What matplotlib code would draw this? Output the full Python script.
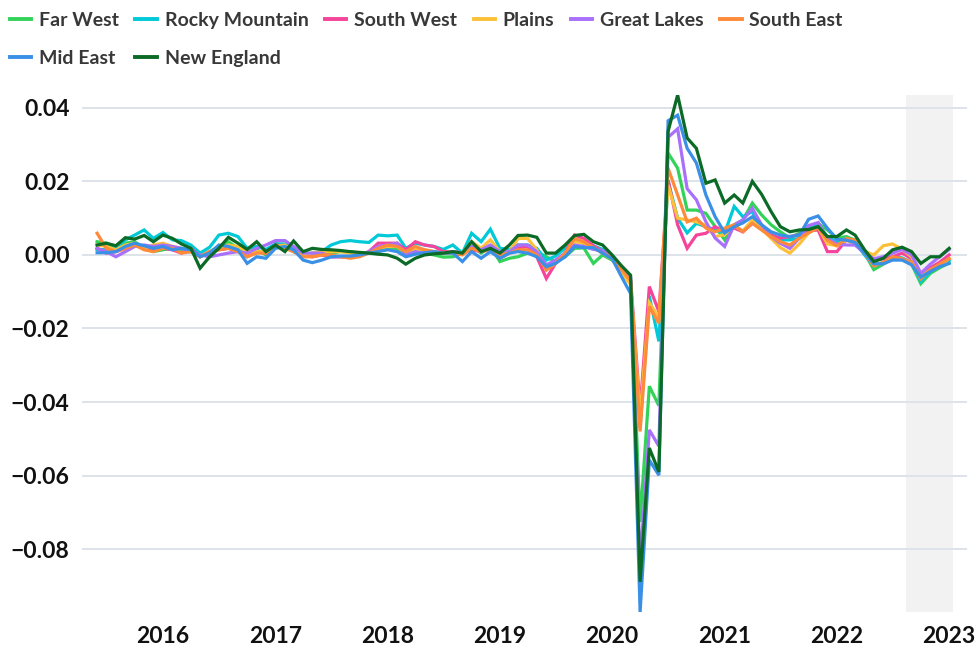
import numpy as np
import pandas as pd
import matplotlib
matplotlib.use("Agg")
import matplotlib.pyplot as plt
import matplotlib.dates as mdates
from matplotlib.ticker import FuncFormatter

# monthly change by BEA region, Jun 2015 - Jan 2023
months = pd.date_range("2015-06-01", periods=92, freq="MS")

far_west = [
    0.0036, 0.0032, 0.0014, 0.0032, 0.0036, 0.0018, 0.0009, 0.0014, 0.0018, 0.0009,
    0.0009, -0.0005, 0.0009, 0.0023, 0.0036, 0.0018, 0.0009, 0.0014, 0.0, 0.0032,
    0.0023, 0.0014, -0.0005, 0.0, 0.0, 0.0005, 0.0009, 0.0009, 0.0005, 0.0005,
    0.0014, 0.0018, 0.0018, 0.0, 0.0009, 0.0005, 0.0, -0.0006, -0.0005, 0.0005,
    0.0023, 0.0005, 0.0023, -0.0018, -0.0009, -0.0005, 0.0005, 0.0009, -0.0005, -0.0018,
    -0.0005, 0.0018, 0.0019, -0.0023, 0.0, -0.0014, -0.0045, -0.0073, -0.0726, -0.0357,
    -0.041, 0.0277, 0.0236, 0.0122, 0.0122, 0.0113, 0.0077, 0.0041, 0.0082, 0.0095,
    0.0141, 0.0109, 0.0082, 0.0063, 0.0046, 0.006, 0.0077, 0.0086, 0.0068, 0.0046,
    0.005, 0.004, 0.0005, -0.004, -0.0025, -0.001, -0.0012, -0.0025, -0.0078, -0.005,
    -0.0035, -0.0022,
]
rocky_mountain = [
    0.0015, 0.0014, 0.0021, 0.0041, 0.0054, 0.0068, 0.0045, 0.0061, 0.0041, 0.0039,
    0.0027, 0.0005, 0.0021, 0.0054, 0.0059, 0.005, 0.0018, 0.0023, 0.0015, 0.003,
    0.003, 0.0015, 0.0, 0.0005, 0.0009, 0.0027, 0.0036, 0.0039, 0.0036, 0.0034,
    0.0054, 0.0052, 0.0054, 0.0018, 0.0032, 0.0027, 0.0023, 0.0015, 0.0027, 0.0005,
    0.0059, 0.0036, 0.007, 0.0018, 0.0015, 0.0027, 0.0027, 0.0018, -0.0014, -0.0003,
    0.0018, 0.0045, 0.003, 0.0025, 0.0015, -0.0005, -0.004, -0.0075, -0.047, -0.0112,
    -0.0235, 0.020, 0.010, 0.006, 0.0086, 0.0077, 0.0068, 0.006, 0.0132, 0.0104,
    0.0118, 0.0073, 0.0054, 0.0041, 0.0041, 0.0045, 0.007, 0.0082, 0.005, 0.0035,
    0.0045, 0.0035, 0.0, -0.003, -0.002, -0.0005, -0.0008, -0.002, -0.0072, -0.0045,
    -0.003, -0.0015,
]
south_west = [
    0.0018, 0.0005, 0.0009, 0.0018, 0.0027, 0.0018, 0.0014, 0.0018, 0.0014, 0.0005,
    0.0018, -0.0005, 0.0009, 0.0014, 0.0018, 0.0009, -0.0005, 0.0009, 0.0005, 0.0027,
    0.0023, 0.0009, 0.0, -0.0005, 0.0, -0.0005, -0.0005, -0.0006, -0.0003, 0.0009,
    0.0032, 0.0032, 0.0032, 0.0014, 0.0036, 0.0027, 0.0023, 0.0009, 0.0009, 0.0005,
    0.0014, 0.0009, 0.0018, -0.0009, 0.0005, 0.0018, 0.0023, -0.0005, -0.0064, -0.0023,
    0.0005, 0.0054, 0.0045, 0.0025, 0.001, -0.001, -0.0045, -0.0065, -0.042, -0.0086,
    -0.0154, 0.0204, 0.0082, 0.0018, 0.0054, 0.0059, 0.0077, 0.0063, 0.0073, 0.0063,
    0.0086, 0.0073, 0.0054, 0.0046, 0.005, 0.0055, 0.0065, 0.0068, 0.0009, 0.0009,
    0.0041, 0.004, 0.001, -0.0015, -0.001, -0.0005, 0.0005, -0.001, -0.0055, -0.0035,
    -0.002, 0.0,
]
plains = [
    0.0027, 0.0023, 0.0014, 0.0027, 0.0032, 0.0018, 0.0027, 0.0032, 0.0023, 0.0018,
    0.0009, -0.0005, 0.0009, 0.0018, 0.0027, 0.0023, 0.0009, 0.0009, 0.0009, 0.0023,
    0.0027, 0.0009, 0.0, 0.0005, 0.0009, 0.0009, 0.0009, 0.0005, 0.0003, 0.0005,
    0.0018, 0.0023, 0.0023, 0.0005, 0.0014, 0.0014, 0.0009, 0.0005, 0.0009, 0.0005,
    0.0036, 0.0018, 0.0041, 0.0009, 0.0009, 0.0045, 0.0045, 0.0014, -0.004, -0.0023,
    0.0, 0.0036, 0.0032, 0.002, 0.0005, -0.001, -0.005, -0.008, -0.044, -0.013,
    -0.017, 0.019, 0.010, 0.0095, 0.009, 0.008, 0.005, 0.0055, 0.008, 0.0065,
    0.0095, 0.007, 0.0045, 0.002, 0.0005, 0.003, 0.006, 0.0075, 0.003, 0.0025,
    0.004, 0.003, 0.001, 0.0, 0.0025, 0.003, 0.0015, -0.0005, -0.006, -0.004,
    -0.003, -0.001,
]
great_lakes = [
    0.0018, 0.0009, -0.0005, 0.0009, 0.0023, 0.0027, 0.0023, 0.0027, 0.0023, 0.0018,
    0.0009, 0.0, -0.0005, 0.0, 0.0005, 0.0009, 0.0005, 0.0018, 0.0027, 0.0039,
    0.0039, 0.0023, 0.0005, 0.0005, 0.0005, -0.0005, -0.0005, -0.0005, 0.0, 0.0009,
    0.0023, 0.0027, 0.0032, 0.0, 0.0009, 0.0005, 0.0009, 0.0005, 0.0009, 0.0005,
    0.0023, 0.0014, 0.0027, 0.0009, 0.0009, 0.0027, 0.0027, 0.0009, -0.0027, -0.0014,
    0.0005, 0.0027, 0.0023, 0.0015, 0.0012, -0.0005, -0.004, -0.006, -0.084, -0.0476,
    -0.052, 0.032, 0.0343, 0.018, 0.015, 0.009, 0.0046, 0.0023, 0.0082, 0.0095,
    0.0127, 0.0082, 0.005, 0.0032, 0.0018, 0.0046, 0.008, 0.0088, 0.0045, 0.003,
    0.0027, 0.0027, 0.0005, -0.001, -0.0005, 0.0005, 0.0015, 0.0, -0.005, -0.0025,
    -0.0005, 0.0015,
]
south_east = [
    0.0059, 0.0018, 0.0009, 0.0018, 0.0027, 0.0014, 0.0009, 0.0018, 0.0018, 0.0005,
    0.0009, -0.0005, 0.0009, 0.0014, 0.0018, 0.0009, -0.0005, 0.0005, 0.0005, 0.0023,
    0.0018, 0.0009, -0.0005, -0.0005, 0.0, 0.0, -0.0005, -0.0009, -0.0005, 0.0005,
    0.0018, 0.0027, 0.0023, 0.0009, 0.0023, 0.0014, 0.0009, 0.0005, 0.0005, 0.0,
    0.0018, 0.0009, 0.0014, 0.0, 0.0005, 0.0014, 0.0014, 0.0, -0.0041, -0.0023,
    0.0005, 0.0045, 0.0036, 0.002, 0.0005, -0.0005, -0.004, -0.007, -0.048, -0.014,
    -0.0186, 0.0236, 0.0163, 0.009, 0.010, 0.0073, 0.0063, 0.0073, 0.0082, 0.0063,
    0.0086, 0.0068, 0.005, 0.0036, 0.0027, 0.0046, 0.006, 0.0075, 0.004, 0.0025,
    0.0045, 0.004, 0.0005, -0.003, -0.002, -0.0005, -0.001, -0.002, -0.0065, -0.004,
    -0.0025, -0.001,
]
mid_east = [
    0.0006, 0.0006, 0.0009, 0.0023, 0.0032, 0.0025, 0.0018, 0.0023, 0.0014, 0.0018,
    0.0014, -0.0005, 0.0005, 0.0027, 0.0023, 0.0014, -0.0023, -0.0005, -0.0009, 0.0018,
    0.0023, 0.0014, -0.0014, -0.0021, -0.0014, -0.0005, -0.0003, -0.0003, 0.0, 0.0005,
    0.0009, 0.0014, 0.0009, -0.0005, 0.0002, 0.0006, 0.0009, 0.0005, 0.0005, -0.0018,
    0.0009, -0.0009, 0.0009, -0.0009, 0.0005, 0.0009, 0.0005, -0.0005, -0.0032, -0.0023,
    -0.0005, 0.0023, 0.002, 0.002, 0.0005, -0.001, -0.006, -0.0105, -0.0971, -0.0558,
    -0.0599, 0.0365, 0.038, 0.029, 0.025, 0.0163, 0.0104, 0.006, 0.0077, 0.0087,
    0.0104, 0.0082, 0.0063, 0.0054, 0.005, 0.0054, 0.0097, 0.0106, 0.0073, 0.0043,
    0.004, 0.0034, 0.0005, -0.0024, -0.0024, -0.0014, -0.0014, -0.0027, -0.006, -0.0045,
    -0.0032, -0.0023,
]
new_england = [
    0.0027, 0.0032, 0.0025, 0.0047, 0.0043, 0.0053, 0.0036, 0.0054, 0.0045, 0.0030,
    0.0018, -0.0036, -0.0005, 0.0018, 0.0048, 0.0032, 0.0015, 0.0036, 0.0009, 0.0027,
    0.0009, 0.0038, 0.0009, 0.0018, 0.0015, 0.0014, 0.0012, 0.0009, 0.0007, 0.0005,
    0.0002, 0.0, -0.0009, -0.0025, -0.0009, 0.0, 0.0003, 0.0005, 0.0009, 0.0005,
    0.0036, 0.0009, 0.0018, 0.0005, 0.0027, 0.0053, 0.0054, 0.0048, 0.0005, 0.0005,
    0.0027, 0.0053, 0.0056, 0.0036, 0.0027, 0.0, -0.003, -0.0055, -0.0889, -0.0525,
    -0.059, 0.0336, 0.0435, 0.0318, 0.029, 0.0195, 0.0204, 0.0141, 0.0163, 0.0141,
    0.020, 0.0165, 0.0118, 0.0077, 0.0063, 0.0068, 0.0069, 0.0077, 0.005, 0.005,
    0.0068, 0.0054, 0.0014, -0.0018, -0.0009, 0.0014, 0.0021, 0.0009, -0.0023, -0.0005,
    -0.0005, 0.0018,
]

regions = ["Far West", "Rocky Mountain", "South West", "Plains",
           "Great Lakes", "South East", "Mid East", "New England"]
series = [far_west, rocky_mountain, south_west, plains,
          great_lakes, south_east, mid_east, new_england]
colors = ["#33d35a", "#00c9d8", "#f5449c", "#fcc139",
          "#a870fb", "#ff8a3a", "#3a8fe6", "#0b6a26"]

# forecast window shading
shade_start, shade_end = pd.Timestamp("2022-08-15"), pd.Timestamp("2023-01-12")

FONT = ["Lato", "DejaVu Sans"]
plt.rcParams["font.family"] = FONT

fig = plt.figure(figsize=(9.8, 6.48), dpi=100)
ax = fig.add_axes([0.0837, 0.0556, 0.903, 0.7978])

ax.axvspan(shade_start, shade_end, color="#f2f2f2", lw=0, zorder=0)

handles = []
for name, vals, c in zip(regions, series, colors):
    (ln,) = ax.plot(months, vals, color=c, lw=2.3, label=name, zorder=3,
                    solid_joinstyle="miter")
    handles.append(ln)

allv = np.concatenate([np.asarray(s) for s in series])
ax.set_ylim(allv.min(), allv.max())
ax.set_xlim(months[0] - pd.Timedelta(days=49), months[-1] + pd.Timedelta(days=58))

ax.set_yticks([-0.08, -0.06, -0.04, -0.02, 0.0, 0.02, 0.04])
ax.yaxis.set_major_formatter(FuncFormatter(
    lambda v, p: f"{v:.2f}".replace("-", "\u2212") if abs(v) > 1e-9 else "0.00"))
ax.xaxis.set_major_locator(mdates.YearLocator())
ax.xaxis.set_major_formatter(mdates.DateFormatter("%Y"))

ax.grid(axis="y", color="#dde3e8", lw=1.4, zorder=1)
ax.set_axisbelow(True)
for s in ax.spines.values():
    s.set_visible(False)
ax.tick_params(axis="both", length=0, labelsize=16.5, labelcolor="#111111")
ax.tick_params(axis="y", pad=9)
ax.tick_params(axis="x", pad=10)
for lab in ax.get_xticklabels() + ax.get_yticklabels():
    lab.set_fontweight("bold")

# legend: two rows, filled column-wise so reorder handles
order = [0, 6, 1, 7, 2, 3, 4, 5]
leg = fig.legend([handles[i] for i in order], [regions[i] for i in order],
                 loc="upper left", bbox_to_anchor=(0.0, 0.997), ncol=6,
                 frameon=False, borderpad=0, handlelength=1.1,
                 handletextpad=0.4, columnspacing=0.85, labelspacing=1.1,
                 prop={"weight": "bold", "size": 14})
for t in leg.get_texts():
    t.set_color("#383838")
for h in leg.get_lines():
    h.set_linewidth(2.8)

fig.savefig("out.png", dpi=100)
